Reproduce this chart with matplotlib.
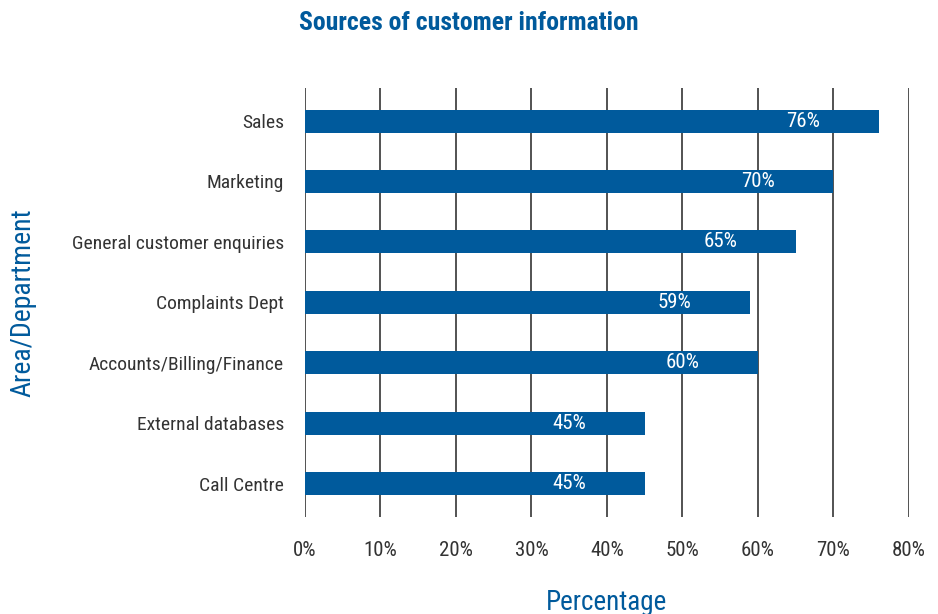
import matplotlib.pyplot as plt

# survey results, top to bottom as shown
departments = ["Sales", "Marketing", "General customer enquiries", "Complaints Dept",
               "Accounts/Billing/Finance", "External databases", "Call Centre"]
shares = [76, 70, 65, 59, 60, 45, 45]
x_ticks = [0, 10, 20, 30, 40, 50, 60, 70, 80]

blue = "#005a9c"
grey_text = "#333333"

plt.rcParams["font.family"] = ["Roboto Condensed", "DejaVu Sans"]

fig = plt.figure(figsize=(9.38, 6.14), dpi=100)
ax = fig.add_axes([0.325, 0.158, 0.644, 0.699])

# categories from bottom (0) to top
ypos = list(range(len(departments)))[::-1]
ax.barh(ypos, shares, height=0.38, color=blue, zorder=3)

for y, v in zip(ypos, shares):
    ax.text(v - 10, y, f"{v}%", color="white", ha="center", va="center",
            fontsize=15, zorder=4)

ax.set_xlim(0, 80)
ax.set_ylim(-0.55, 6.55)
ax.set_xticks(x_ticks)
ax.set_xticklabels([f"{t}%" for t in x_ticks])
ax.set_yticks(ypos)
ax.set_yticklabels(departments)

ax.xaxis.grid(True, color="#444444", linewidth=1.3, zorder=0)
for s in ax.spines.values():
    s.set_visible(False)
ax.tick_params(axis="both", length=0, labelcolor=grey_text)
ax.tick_params(axis="x", pad=17, labelsize=15)
ax.tick_params(axis="y", pad=15, labelsize=14)

ax.set_xlabel("Percentage", color=blue, fontsize=19.5, labelpad=21)
ax.set_ylabel("Area/Department", color=blue, fontsize=20)
ax.yaxis.set_label_coords(-0.445, 0.5)

fig.text(0.5, 0.962, "Sources of customer information", color=blue,
         fontsize=18.5, fontweight="bold", ha="center", va="center")

fig.savefig("out.png", dpi=100)
